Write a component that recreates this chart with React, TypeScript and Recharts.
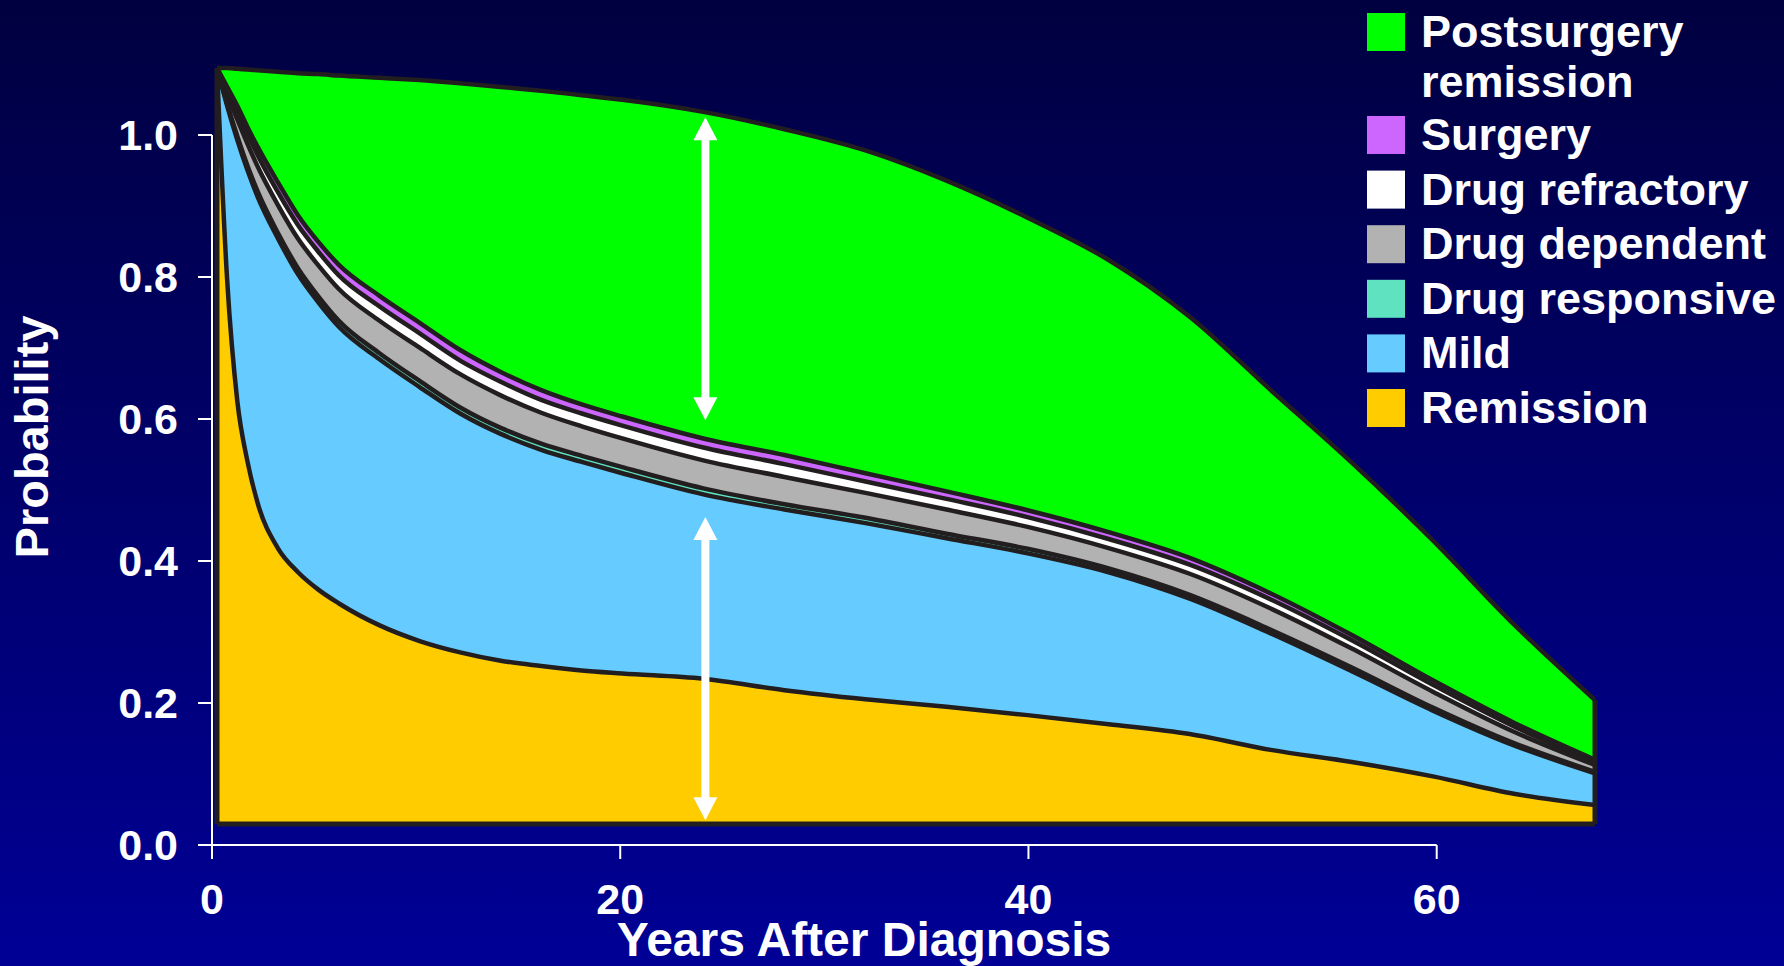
import { Area, AreaChart, Legend, ReferenceLine, XAxis, YAxis } from "recharts";

const FONT = "'Liberation Sans', Arial, Helvetica, sans-serif";
const OUTLINE = "#221e1f";

// years after diagnosis
const YEARS = [0, 0.5, 1, 1.5, 2, 3, 4, 5, 6, 8, 10, 12, 14, 16, 18, 20, 24, 28, 32, 36, 40, 44, 48, 52, 56, 60, 64, 68];

// share of patients in each state (stacked, bottom to top)
const REMISSION = [1.0, 0.72, 0.56, 0.48, 0.425, 0.365, 0.333, 0.31, 0.292, 0.263, 0.242, 0.227, 0.216, 0.209, 0.203, 0.199, 0.192, 0.177, 0.165, 0.155, 0.144, 0.132, 0.119, 0.098, 0.082, 0.063, 0.04, 0.025];
const MILD = [0, 0.23, 0.345, 0.385, 0.405, 0.41, 0.394, 0.38, 0.366, 0.352, 0.336, 0.316, 0.3, 0.286, 0.276, 0.265, 0.244, 0.239, 0.233, 0.223, 0.214, 0.201, 0.179, 0.154, 0.12, 0.087, 0.064, 0.042];
const DRUG_RESPONSIVE = [0, 0.003, 0.005, 0.006, 0.007, 0.007, 0.008, 0.008, 0.008, 0.008, 0.008, 0.008, 0.008, 0.008, 0.008, 0.008, 0.008, 0.007, 0.007, 0.006, 0.006, 0.005, 0.005, 0.005, 0.005, 0.004, 0.003, 0.002];
const DRUG_DEPENDENT = [0, 0.012, 0.022, 0.029, 0.033, 0.037, 0.039, 0.041, 0.042, 0.043, 0.044, 0.044, 0.043, 0.041, 0.039, 0.038, 0.037, 0.036, 0.033, 0.032, 0.029, 0.027, 0.028, 0.028, 0.025, 0.021, 0.015, 0.009];
const DRUG_REFRACTORY = [0, 0.006, 0.01, 0.013, 0.015, 0.017, 0.018, 0.018, 0.018, 0.019, 0.019, 0.018, 0.018, 0.017, 0.017, 0.017, 0.017, 0.017, 0.015, 0.014, 0.013, 0.012, 0.012, 0.012, 0.011, 0.009, 0.007, 0.004];
const SURGERY = [0, 0.004, 0.008, 0.009, 0.011, 0.013, 0.013, 0.013, 0.014, 0.014, 0.014, 0.014, 0.013, 0.013, 0.012, 0.012, 0.012, 0.012, 0.011, 0.01, 0.009, 0.009, 0.009, 0.008, 0.007, 0.006, 0.005, 0.003];
const POSTSURGERY = [0, 0.025, 0.049, 0.076, 0.101, 0.146, 0.188, 0.222, 0.25, 0.288, 0.321, 0.353, 0.377, 0.396, 0.409, 0.419, 0.432, 0.431, 0.427, 0.411, 0.387, 0.36, 0.319, 0.269, 0.228, 0.185, 0.13, 0.079];

const X_TICKS = [0, 20, 40, 60];
const Y_TICKS = [0, 0.2, 0.4, 0.6, 0.8, 1.0];

// double-headed arrows marking two bands around year 24
const ARROWS = [
  { year: 24.1, from: 0.534, to: 0.935 },
  { year: 24.1, from: 0.005, to: 0.406 },
];

const SERIES = [
  { key: "remission", label: ["Remission"], color: "#ffcc00", values: REMISSION },
  { key: "mild", label: ["Mild"], color: "#66ccff", values: MILD },
  { key: "responsive", label: ["Drug responsive"], color: "#5fe2c0", values: DRUG_RESPONSIVE },
  { key: "dependent", label: ["Drug dependent"], color: "#b2b2b2", values: DRUG_DEPENDENT },
  { key: "refractory", label: ["Drug refractory"], color: "#ffffff", values: DRUG_REFRACTORY },
  { key: "surgery", label: ["Surgery"], color: "#cc66ff", values: SURGERY },
  { key: "postsurgery", label: ["Postsurgery", "remission"], color: "#00ff00", values: POSTSURGERY },
];

const ROWS = YEARS.map((year, i) => {
  const row: Record<string, number> = { year };
  SERIES.forEach((s) => (row[s.key] = s.values[i]));
  return row;
});

const LAST = ROWS[ROWS.length - 1];
const LAST_TOTAL = SERIES.reduce((sum, s) => sum + LAST[s.key], 0);

function DoubleArrow(props: any) {
  const { x1, y1, y2 } = props;
  const top = Math.min(y1, y2);
  const bottom = Math.max(y1, y2);
  const head = 23;
  const half = 12;
  const shaft = 4;
  const d = [
    `M${x1},${top}`,
    `L${x1 + half},${top + head}`,
    `L${x1 + shaft},${top + head}`,
    `L${x1 + shaft},${bottom - head}`,
    `L${x1 + half},${bottom - head}`,
    `L${x1},${bottom}`,
    `L${x1 - half},${bottom - head}`,
    `L${x1 - shaft},${bottom - head}`,
    `L${x1 - shaft},${top + head}`,
    `L${x1 - half},${top + head}`,
    "Z",
  ].join(" ");
  return <path d={d} fill="#ffffff" />;
}

function LegendBox() {
  const items = [...SERIES].reverse();
  return (
    <svg width={417} height={440} style={{ display: "block" }}>
      {items.map((s, i) => {
        const base = i === 0 ? 47 : 150 + (i - 1) * 54.6;
        return (
          <g key={s.key}>
            <rect x={0} y={base - 34} width={38} height={38} fill={s.color} />
            {s.label.map((line, j) => (
              <text
                key={line}
                x={54}
                y={base + j * 50}
                fill="#ffffff"
                fontFamily={FONT}
                fontWeight={700}
                fontSize={45}
              >
                {line}
              </text>
            ))}
          </g>
        );
      })}
    </svg>
  );
}

const tickStyle = { fill: "#ffffff", fontSize: 43, fontWeight: 700, fontFamily: FONT };

export default function App() {
  return (
    <div
      style={{
        position: "absolute",
        left: 0,
        top: 0,
        width: 1784,
        height: 966,
        overflow: "hidden",
        background: "linear-gradient(#000040, #000096)",
      }}
    >
      <AreaChart width={1784} height={966} data={ROWS} margin={{ top: 60, right: 184, bottom: 61, left: 112 }}>
        <XAxis
          xAxisId="v"
          type="number"
          dataKey="year"
          domain={[0, 68]}
          allowDataOverflow
          ticks={X_TICKS}
          height={60}
          axisLine={false}
          tickLine={{ stroke: "#ffffff", strokeWidth: 2 }}
          tickSize={14}
          tickMargin={24}
          tick={tickStyle}
          label={{
            content: () => (
              <text x={864} y={956} textAnchor="middle" fill="#ffffff" fontFamily={FONT} fontWeight={700} fontSize={48}>
                Years After Diagnosis
              </text>
            ),
          }}
        />
        <YAxis
          yAxisId="p"
          type="number"
          domain={[0, 1.1056]}
          allowDataOverflow
          ticks={Y_TICKS}
          width={100}
          axisLine={false}
          tickLine={{ stroke: "#ffffff", strokeWidth: 2 }}
          tickSize={14}
          tickMargin={20}
          tick={tickStyle}
          tickFormatter={(v) => Number(v).toFixed(1)}
          label={{
            content: () => (
              <text
                x={48}
                y={437}
                transform="rotate(-90 48 437)"
                textAnchor="middle"
                fill="#ffffff"
                fontFamily={FONT}
                fontWeight={700}
                fontSize={47}
              >
                Probability
              </text>
            ),
          }}
        />
        <XAxis xAxisId="a" type="number" dataKey="year" domain={[-0.247, 68.247]} allowDataOverflow hide height={0} />
        <YAxis yAxisId="a" type="number" domain={[-0.0278, 1.0106]} allowDataOverflow hide width={0} />

        {SERIES.map((s) => (
          <Area
            key={s.key}
            xAxisId="a"
            yAxisId="a"
            dataKey={s.key}
            name={s.label.join(" ")}
            stackId="fill"
            type="monotone"
            fill={s.color}
            fillOpacity={1}
            stroke="none"
            isAnimationActive={false}
          />
        ))}
        {SERIES.map((s) => (
          <Area
            key={`${s.key}-edge`}
            xAxisId="a"
            yAxisId="a"
            dataKey={s.key}
            legendType="none"
            stackId="edge"
            type="monotone"
            fill="none"
            stroke={OUTLINE}
            strokeWidth={4.5}
            strokeLinejoin="round"
            isAnimationActive={false}
          />
        ))}

        {/* outline of the stacked block */}
        <ReferenceLine xAxisId="a" yAxisId="a" segment={[{ x: 0, y: 0 }, { x: 0, y: 1 }]} stroke={OUTLINE} strokeWidth={5} />
        <ReferenceLine xAxisId="a" yAxisId="a" segment={[{ x: 0, y: 0 }, { x: 68, y: 0 }]} stroke={OUTLINE} strokeWidth={5} />
        <ReferenceLine xAxisId="a" yAxisId="a" segment={[{ x: 68, y: 0 }, { x: 68, y: LAST_TOTAL }]} stroke={OUTLINE} strokeWidth={5} />

        {/* axis lines only span the ticked range */}
        <ReferenceLine xAxisId="v" yAxisId="p" segment={[{ x: 0, y: 0 }, { x: 60, y: 0 }]} stroke="#ffffff" strokeWidth={2} />
        <ReferenceLine xAxisId="v" yAxisId="p" segment={[{ x: 0, y: 0 }, { x: 0, y: 1 }]} stroke="#ffffff" strokeWidth={2} />

        {ARROWS.map((a, i) => (
          <ReferenceLine
            key={i}
            xAxisId="a"
            yAxisId="a"
            segment={[{ x: a.year, y: a.from }, { x: a.year, y: a.to }]}
            shape={DoubleArrow}
          />
        ))}

        <Legend
          layout="horizontal"
          verticalAlign="middle"
          align="center"
          wrapperStyle={{ left: 1367, top: 0, width: 417, height: 440 }}
          content={() => <LegendBox />}
        />
      </AreaChart>
    </div>
  );
}
